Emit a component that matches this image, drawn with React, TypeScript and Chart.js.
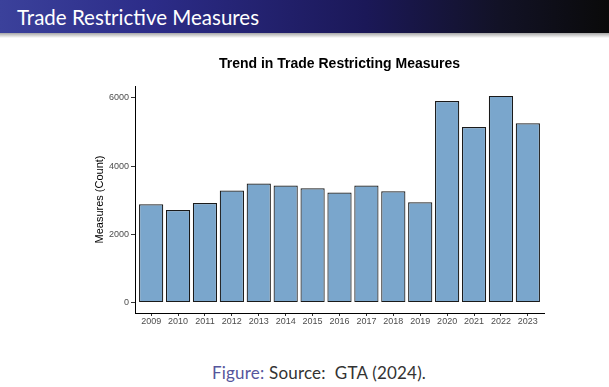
import React, { useEffect, useRef } from "react";
import { Chart, registerables } from "chart.js";

Chart.register(...registerables);

const slideTitle = "Trade Restrictive Measures";
const chartTitle = "Trend in Trade Restricting Measures";
const yAxisTitle = "Measures (Count)";
const captionLabel = "Figure:";
const captionText = "Source:  GTA (2024).";

const years = [2009, 2010, 2011, 2012, 2013, 2014, 2015, 2016, 2017, 2018, 2019, 2020, 2021, 2022, 2023];
const measures = [2880, 2715, 2920, 3285, 3490, 3430, 3350, 3225, 3430, 3265, 2940, 5910, 5150, 6060, 5260];
const yTicks = [0, 2000, 4000, 6000];

export default function App() {
  const canvasRef = useRef<HTMLCanvasElement | null>(null);

  useEffect(() => {
    if (!canvasRef.current) return;
    const family = "'Liberation Sans', Arial, sans-serif";
    const tickFont = { family, size: 9 };
    const chart = new Chart(canvasRef.current, {
      type: "bar",
      data: {
        datasets: [
          {
            data: years.map((yr, i) => ({ x: yr, y: measures[i] })),
            backgroundColor: "#7aa6cc",
            borderColor: "#1a1a1a",
            borderWidth: 1.2,
            borderSkipped: false,
            barPercentage: 0.9,
            categoryPercentage: 1,
          },
        ],
      },
      options: {
        animation: false,
        responsive: false,
        maintainAspectRatio: false,
        layout: { padding: { left: 0, right: 29, top: 0, bottom: 2 } },
        plugins: {
          legend: { display: false },
          tooltip: { enabled: false },
          title: {
            display: true,
            fullSize: false,
            text: chartTitle,
            color: "#000",
            font: { family, size: 14, weight: "bold" },
            padding: { top: 10.5, bottom: 13.7 },
          },
        },
        scales: {
          x: {
            type: "linear",
            offset: false,
            min: years[0] - 0.6,
            max: years[years.length - 1] + 0.6,
            afterBuildTicks: (s: any) => {
              s.ticks = years.map((v) => ({ value: v }));
            },
            afterFit: (s: any) => {
              s.height = 20;
            },
            ticks: {
              callback: (v: any) => String(v),
              color: "#4d4d4d",
              font: tickFont,
              padding: 0,
              autoSkip: false,
              maxRotation: 0,
            },
            grid: { offset: false, drawOnChartArea: false, drawTicks: true, tickLength: 3, color: "#333" },
            border: { display: true, color: "#000", width: 1 },
          },
          y: {
            min: -305,
            max: 6350,
            afterBuildTicks: (s: any) => {
              s.ticks = yTicks.map((v) => ({ value: v }));
            },
            afterFit: (s: any) => {
              s.width = 46;
            },
            ticks: {
              callback: (v: any) => String(v),
              color: "#4d4d4d",
              font: tickFont,
              padding: 2,
            },
            title: {
              display: true,
              text: yAxisTitle,
              color: "#000",
              font: { family, size: 11 },
              padding: { top: 4, bottom: 4 },
            },
            grid: { drawOnChartArea: false, drawTicks: true, tickLength: 4, color: "#333" },
            border: { display: true, color: "#000", width: 1 },
          },
        },
      },
    } as any);
    return () => chart.destroy();
  }, []);

  return (
    <div
      style={{
        position: "absolute",
        left: 0,
        top: 0,
        width: 609,
        height: 387,
        background: "#fff",
        overflow: "hidden",
      }}
    >
      <div
        style={{
          position: "absolute",
          left: 0,
          top: 0,
          width: 609,
          height: 33,
          background:
            "linear-gradient(to right, #3b419b 0%, #2c2c88 25%, #1b1858 60%, #121226 82%, #0a0a0a 100%)",
        }}
      />
      <div
        style={{
          position: "absolute",
          left: 0,
          top: 33,
          width: 609,
          height: 5,
          background: "linear-gradient(to bottom, rgba(0,0,0,0.35), rgba(0,0,0,0))",
        }}
      />
      <div
        style={{
          position: "absolute",
          left: 17,
          top: 6.8,
          color: "#fff",
          fontFamily: "Lato, sans-serif",
          fontSize: 20.5,
          lineHeight: "20.5px",
          whiteSpace: "nowrap",
        }}
      >
        {slideTitle}
      </div>
      <canvas
        ref={canvasRef}
        width={484}
        height={290}
        style={{ position: "absolute", left: 89, top: 45, width: 484, height: 290 }}
      />
      <div
        style={{
          position: "absolute",
          left: 212,
          top: 363.6,
          fontFamily: "Lato, sans-serif",
          fontSize: 17,
          lineHeight: "17px",
          letterSpacing: 0.2,
          color: "#333",
          whiteSpace: "pre",
        }}
      >
        <span style={{ color: "#56569c" }}>{captionLabel}</span> {captionText}
      </div>
    </div>
  );
}
